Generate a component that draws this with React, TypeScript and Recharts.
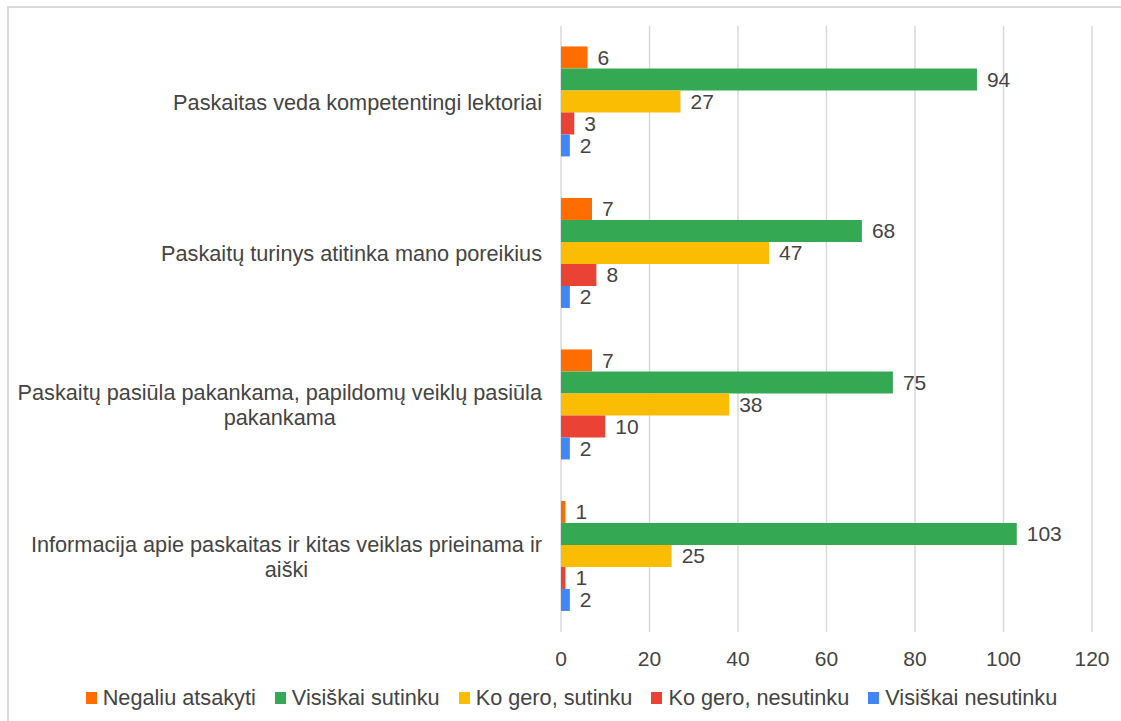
import { BarChart, Bar, XAxis, YAxis, CartesianGrid, Legend, LabelList } from 'recharts';

const categories = [
  'Paskaitas veda kompetentingi lektoriai',
  'Paskaitų turinys atitinka mano poreikius',
  'Paskaitų pasiūla pakankama, papildomų veiklų pasiūla pakankama',
  'Informacija apie paskaitas ir kitas veiklas prieinama ir aiški',
];

const negaliuAtsakyti = [6, 7, 7, 1];
const visiskaiSutinku = [94, 68, 75, 103];
const koGeroSutinku = [27, 47, 38, 25];
const koGeroNesutinku = [3, 8, 10, 1];
const visiskaiNesutinku = [2, 2, 2, 2];

const xTicks = [0, 20, 40, 60, 80, 100, 120];

const series = [
  { key: 'negaliu', name: 'Negaliu atsakyti', color: '#FF6D01', values: negaliuAtsakyti },
  { key: 'visiskaiSutinku', name: 'Visiškai sutinku', color: '#34A853', values: visiskaiSutinku },
  { key: 'koGeroSutinku', name: 'Ko gero, sutinku', color: '#FBBC04', values: koGeroSutinku },
  { key: 'koGeroNesutinku', name: 'Ko gero, nesutinku', color: '#EA4335', values: koGeroNesutinku },
  { key: 'visiskaiNesutinku', name: 'Visiškai nesutinku', color: '#4285F4', values: visiskaiNesutinku },
];

const data = categories.map((name, i) => {
  const row: Record<string, string | number> = { name };
  series.forEach((s) => {
    row[s.key] = s.values[i];
  });
  return row;
});

const FONT = '"Liberation Sans", Arial, sans-serif';
const FONT_SIZE = 21;
const LABEL_SIZE = 21.7;
const TEXT = '#444444';

const canvas = typeof document !== 'undefined' ? document.createElement('canvas') : null;
const ctx = canvas ? canvas.getContext('2d') : null;

function measure(s: string) {
  if (!ctx) return s.length * LABEL_SIZE * 0.5;
  ctx.font = `${LABEL_SIZE}px "Liberation Sans", Arial, sans-serif`;
  return ctx.measureText(s).width;
}

function wrap(label: string, maxWidth: number) {
  const words = label.split(' ');
  const lines: string[] = [];
  let cur = '';
  words.forEach((w) => {
    const next = cur ? cur + ' ' + w : w;
    if (cur && measure(next) > maxWidth) {
      lines.push(cur);
      cur = w;
    } else {
      cur = next;
    }
  });
  if (cur) lines.push(cur);
  return lines;
}

const CategoryTick = (props: any) => {
  const { x, y, payload } = props;
  const lines = wrap(String(payload.value), 540);
  const blockWidth = Math.max(...lines.map(measure));
  const cx = x - blockWidth / 2;
  return (
    <g>
      {lines.map((line, i) => (
        <text
          key={i}
          x={cx}
          y={y + (i - (lines.length - 1) / 2) * 25}
          dy="0.36em"
          textAnchor="middle"
          fill={TEXT}
          fontSize={LABEL_SIZE}
          fontFamily={FONT}
        >
          {line}
        </text>
      ))}
    </g>
  );
};

const LegendContent = () => (
  <div
    style={{
      height: 30,
      width: 1121,
      display: 'flex',
      alignItems: 'center',
      justifyContent: 'center',
      paddingLeft: 22,
      boxSizing: 'border-box',
      fontFamily: FONT,
      fontSize: LABEL_SIZE,
      color: TEXT,
    }}
  >
    {series.map((s, i) => (
      <div key={s.key} style={{ display: 'flex', alignItems: 'center', marginLeft: i === 0 ? 0 : 19 }}>
        <span style={{ display: 'inline-block', width: 11, height: 12, background: s.color, marginRight: 6 }} />
        <span>{s.name}</span>
      </div>
    ))}
  </div>
);

export default function App() {
  return (
    <div style={{ position: 'fixed', left: 0, top: 0, width: 1121, height: 721, background: '#fff', overflow: 'hidden' }}>
      <div
        style={{
          position: 'absolute',
          left: 7,
          top: 6,
          width: 1121,
          height: 721,
          borderLeft: '2px solid #d9d9d9',
          borderTop: '2px solid #d9d9d9',
        }}
      />
      <div style={{ position: 'absolute', left: 0, top: 0 }}>
        <BarChart
          width={1121}
          height={721}
          data={data}
          layout="vertical"
          margin={{ top: 26, right: 29, left: 0, bottom: 0 }}
          barCategoryGap="13.5%"
          barGap={0}
          style={{ fontFamily: FONT }}
        >
          <CartesianGrid horizontal={false} stroke="#d9d9d9" strokeWidth={1.5} />
          <XAxis
            type="number"
            domain={[0, 120]}
            ticks={xTicks}
            axisLine={false}
            tickLine={false}
            tickSize={0}
            tickMargin={19}
            height={59}
            tick={{ fill: TEXT, fontSize: FONT_SIZE, fontFamily: FONT }}
            interval={0}
          />
          <YAxis
            type="category"
            dataKey="name"
            width={561}
            axisLine={false}
            tickLine={false}
            tickSize={0}
            tickMargin={19}
            tick={<CategoryTick />}
            interval={0}
          />
          <Legend verticalAlign="bottom" content={<LegendContent />} wrapperStyle={{ left: 0, bottom: 8, width: 1121 }} />
          {series.map((s) => (
            <Bar key={s.key} dataKey={s.key} name={s.name} fill={s.color} isAnimationActive={false}>
              <LabelList
                dataKey={s.key}
                position="right"
                offset={10}
                fill={TEXT}
                fontSize={FONT_SIZE}
                fontFamily={FONT}
              />
            </Bar>
          ))}
        </BarChart>
      </div>
    </div>
  );
}
